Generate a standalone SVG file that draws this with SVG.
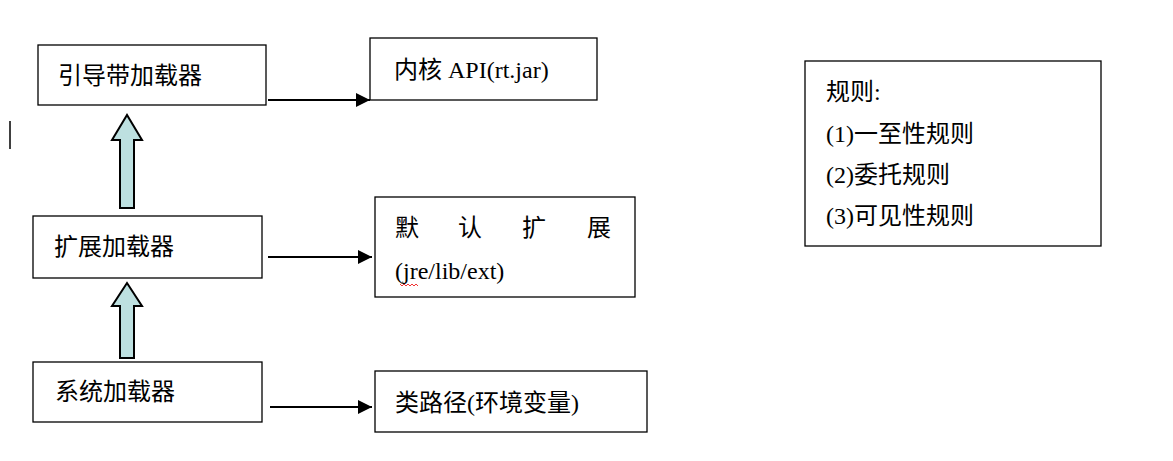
<svg xmlns="http://www.w3.org/2000/svg" width="1173" height="461" viewBox="0 0 1173 461">
<style>
.b{fill:#fff;stroke:#000;stroke-width:1.3}
.t{font-family:"Liberation Serif","Noto Sans CJK SC",serif;font-size:24px;fill:#000}
.c{stroke:#000;stroke-width:2;fill:none}
.h{fill:#bde0e0;stroke:#000;stroke-width:2}
</style>
<defs><marker id="a" viewBox="0 0 10 10" refX="9" refY="5" markerWidth="7" markerHeight="7" orient="auto" markerUnits="userSpaceOnUse"><path d="M0,0L10,5L0,10z"/></marker>
<marker id="m" viewBox="0 0 10 10" refX="10" refY="5" markerWidth="14" markerHeight="14" markerUnits="userSpaceOnUse" orient="auto"><path d="M0,0L10,5L0,10z"/></marker></defs>
<line x1="10" y1="121" x2="10" y2="149" stroke="#000" stroke-width="1.5"/>
<g id="n1"><rect class="b" x="38" y="45" width="228" height="60"/><text class="t" x="58" y="84">引导带加载器</text></g>
<g id="n2"><rect class="b" x="370" y="38" width="227" height="62"/><text class="t" x="394" y="78">内核 API(rt.jar)</text></g>
<g id="n3"><rect class="b" x="33" y="216" width="229" height="62"/><text class="t" x="54" y="255">扩展加载器</text></g>
<g id="n4"><rect class="b" x="375" y="197" width="260" height="100"/><text class="t" x="395" y="236">默</text><text class="t" x="458" y="236">认</text><text class="t" x="522" y="236">扩</text><text class="t" x="587" y="236">展</text><text class="t" x="395" y="279">(jre/lib/ext)</text><path d="M400,284 l2,2 2,-2 2,2 2,-2 2,2 2,-2 2,2 2,-2 2,2" stroke="#e00" stroke-width="0.8" fill="none"/></g>
<g id="n5"><rect class="b" x="33" y="362" width="229" height="60"/><text class="t" x="55" y="400">系统加载器</text></g>
<g id="n6"><rect class="b" x="375" y="371" width="272" height="61"/><text class="t" x="395" y="411">类路径(环境变量)</text></g>
<g id="rules"><rect class="b" x="805" y="61" width="296" height="185"/><text class="t" x="826" y="100">规则:</text><text class="t" x="826" y="142">(1)一至性规则</text><text class="t" x="826" y="183">(2)委托规则</text><text class="t" x="826" y="224">(3)可见性规则</text></g>
<g id="connectors">
<line class="c" x1="268" y1="100" x2="370" y2="100" marker-end="url(#m)"/>
<line class="c" x1="268" y1="257" x2="372" y2="257" marker-end="url(#m)"/>
<line class="c" x1="270" y1="407" x2="372" y2="407" marker-end="url(#m)"/>
<path class="h" d="M120,208 V140 H112 L127,115 L142,140 H134 V208 Z"/>
<path class="h" d="M120,358 V306 H112 L127,283 L142,306 H134 V358 Z"/>
</g>
</svg>
